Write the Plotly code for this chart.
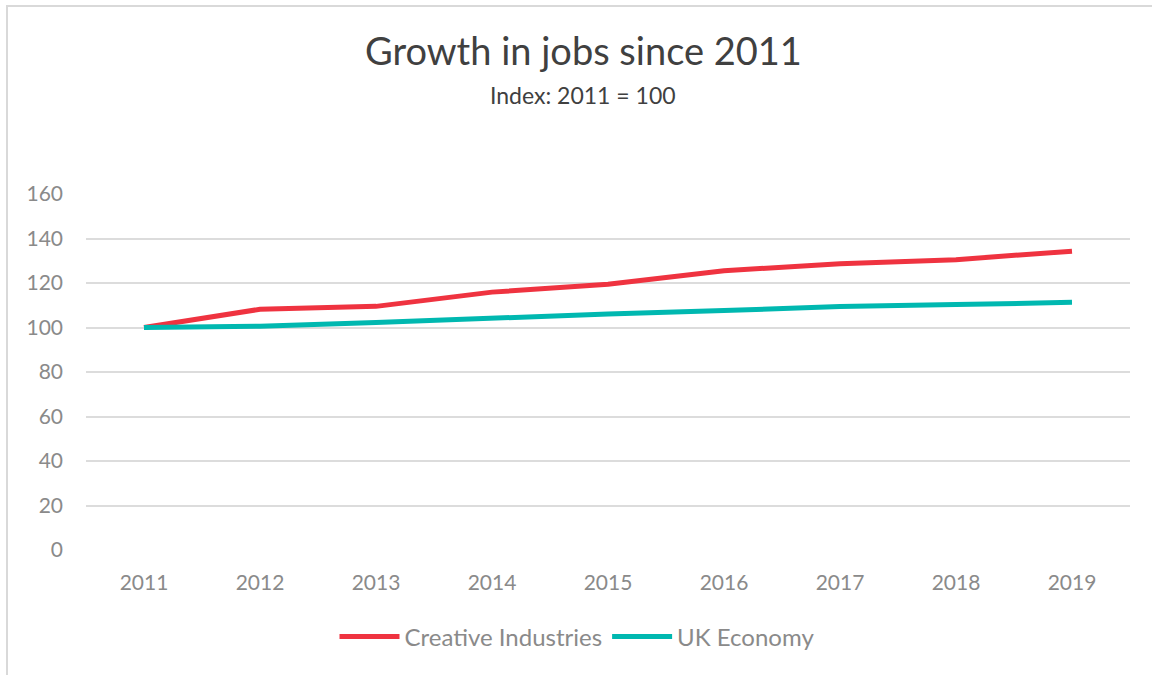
import plotly.graph_objects as go

years = ["2011", "2012", "2013", "2014", "2015", "2016", "2017", "2018", "2019"]
creative = [100, 108.2, 109.5, 115.9, 119.4, 125.5, 128.7, 130.5, 134.3]
uk_economy = [100, 100.6, 102.2, 104.2, 106.1, 107.6, 109.4, 110.3, 111.3]
y_ticks = [0, 20, 40, 60, 80, 100, 120, 140, 160]

FONT = "Lato, 'Open Sans', sans-serif"
GREY = "#8a8a8a"
DARK = "#404040"

fig = go.Figure()
fig.add_trace(go.Scatter(x=years, y=creative, name="Creative Industries", mode="lines",
                         line=dict(color="#ef3340", width=5)))
fig.add_trace(go.Scatter(x=years, y=uk_economy, name="UK Economy", mode="lines",
                         line=dict(color="#00b8b0", width=5)))

ml, mr, mt, mb = 86, 22, 194, 125
W, H = 1152, 675
pw, ph = W - ml - mr, H - mt - mb


def py(p):
    return (H - mb - p) / ph


def px(p):
    return (p - ml) / pw


# outer chart frame
fig.add_shape(type="rect", xref="paper", yref="paper",
              x0=px(7), x1=px(W + 10), y0=py(H + 10), y1=py(6),
              line=dict(color="#d9d9d9", width=2), fillcolor="rgba(0,0,0,0)", layer="below")

fig.add_annotation(text="Growth in jobs since 2011", xref="paper", yref="paper",
                   x=px(583), y=py(50), xanchor="center", yanchor="middle", showarrow=False,
                   font=dict(family=FONT, size=38, color=DARK))
fig.add_annotation(text="Index: 2011 = 100", xref="paper", yref="paper",
                   x=px(583), y=py(95), xanchor="center", yanchor="middle", showarrow=False,
                   font=dict(family=FONT, size=23, color=DARK))

fig.update_layout(
    width=W, height=H,
    margin=dict(l=ml, r=mr, t=mt, b=mb),
    paper_bgcolor="white", plot_bgcolor="white",
    xaxis=dict(type="category", showgrid=False, showline=False, zeroline=False,
               tickfont=dict(family=FONT, size=21, color=GREY), ticks="",
               ticklabelstandoff=18, range=[-0.5, 8.5]),
    yaxis=dict(range=[0, 160], tickvals=y_ticks, showgrid=True, gridcolor="#dcdcdc",
               gridwidth=1.5, zeroline=False, showline=False, ticks="",
               tickfont=dict(family=FONT, size=21, color=GREY), ticklabelstandoff=22),
    legend=dict(orientation="h", x=px(577), xanchor="center", y=py(637), yanchor="middle",
                font=dict(family=FONT, size=24, color=GREY), itemwidth=60,
                tracegroupgap=0),
    showlegend=True,
)

fig.write_html("out.html")
